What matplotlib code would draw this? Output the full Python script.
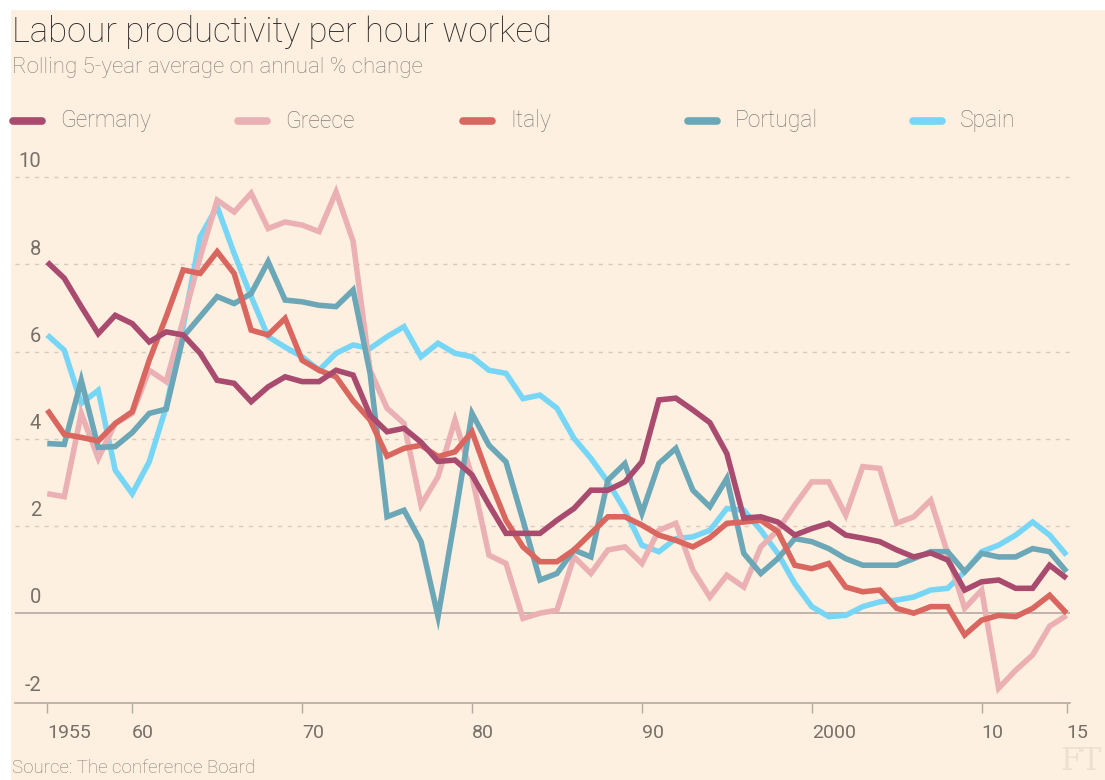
import matplotlib
matplotlib.use("Agg")
import matplotlib.pyplot as plt
import matplotlib.transforms as mtransforms
from matplotlib.lines import Line2D
from matplotlib.patches import Rectangle

years = list(range(1955, 2016))

germany = [8.05, 7.68, 7.03, 6.41, 6.83, 6.64, 6.22, 6.45, 6.38, 5.96,
           5.34, 5.27, 4.85, 5.19, 5.42, 5.31, 5.31, 5.57, 5.46, 4.54,
           4.16, 4.24, 3.92, 3.48, 3.51, 3.17, 2.48, 1.83, 1.83, 1.83,
           2.13, 2.40, 2.82, 2.82, 3.01, 3.47, 4.89, 4.93, 4.66, 4.37,
           3.66, 2.18, 2.21, 2.09, 1.79, 1.94, 2.06, 1.79, 1.72, 1.64,
           1.45, 1.29, 1.38, 1.22, 0.53, 0.72, 0.76, 0.57, 0.57, 1.10, 0.80]

greece = [2.74, 2.67, 4.58, 3.55, 4.35, 4.58, 5.57, 5.31, 6.72, 8.17,
          9.47, 9.20, 9.63, 8.82, 8.97, 8.90, 8.75, 9.66, 8.53, 5.57,
          4.70, 4.35, 2.48, 3.13, 4.43, 3.13, 1.33, 1.14, -0.12, 0.00,
          0.07, 1.29, 0.91, 1.45, 1.52, 1.14, 1.90, 2.06, 0.99, 0.37,
          0.87, 0.60, 1.52, 1.90, 2.48, 3.01, 3.01, 2.25, 3.36, 3.32,
          2.06, 2.21, 2.59, 1.37, 0.11, 0.53, -1.72, -1.31, -0.96, -0.30, -0.05]

italy = [4.66, 4.10, 4.03, 3.95, 4.35, 4.62, 5.80, 6.80, 7.87, 7.79,
         8.29, 7.79, 6.49, 6.38, 6.76, 5.80, 5.57, 5.42, 4.87, 4.43,
         3.60, 3.78, 3.85, 3.59, 3.70, 4.16, 3.09, 2.13, 1.52, 1.18,
         1.18, 1.45, 1.83, 2.21, 2.21, 2.02, 1.79, 1.67, 1.52, 1.73,
         2.06, 2.09, 2.13, 1.87, 1.10, 1.02, 1.14, 0.60, 0.49, 0.53,
         0.11, 0.00, 0.15, 0.15, -0.50, -0.16, -0.05, -0.08, 0.11, 0.41, 0.00]

portugal = [3.89, 3.87, 5.34, 3.80, 3.82, 4.14, 4.58, 4.68, 6.34, 6.80,
            7.26, 7.10, 7.33, 8.06, 7.18, 7.14, 7.06, 7.03, 7.41, 5.50,
            2.21, 2.36, 1.64, -0.08, 2.20, 4.58, 3.85, 3.47, 2.13, 0.76,
            0.91, 1.45, 1.29, 3.05, 3.43, 2.29, 3.43, 3.78, 2.82, 2.44,
            3.09, 1.37, 0.91, 1.25, 1.71, 1.64, 1.48, 1.25, 1.10, 1.10,
            1.10, 1.25, 1.41, 1.41, 0.95, 1.37, 1.29, 1.29, 1.48, 1.41, 0.95]

spain = [6.38, 6.03, 4.81, 5.11, 3.28, 2.74, 3.47, 4.73, 6.57, 8.63,
         9.32, 8.25, 7.26, 6.34, 6.10, 5.88, 5.57, 5.96, 6.15, 6.07,
         6.34, 6.57, 5.88, 6.19, 5.96, 5.88, 5.57, 5.50, 4.92, 5.00,
         4.70, 4.01, 3.55, 3.01, 2.36, 1.56, 1.41, 1.71, 1.75, 1.90,
         2.40, 2.36, 1.90, 1.37, 0.68, 0.15, -0.08, -0.05, 0.15, 0.26,
         0.30, 0.37, 0.53, 0.57, 0.95, 1.41, 1.56, 1.79, 2.09, 1.79, 1.33]

series_names = ["Germany", "Greece", "Italy", "Portugal", "Spain"]
series_values = [germany, greece, italy, portugal, spain]
colors = ["#a94a6f", "#ebb0b3", "#d9675f", "#6ba7b6", "#77d6f5"]
zorders = [6, 3, 5, 4, 2]

xtick_pos = [1955, 1960, 1970, 1980, 1990, 2000, 2010, 2015]
xtick_labels = ["1955", "60", "70", "80", "90", "2000", "10", "15"]
ytick_vals = [-2, 0, 2, 4, 6, 8, 10]

BG = "#fdf0e1"
FONT = ["Roboto", "DejaVu Sans"]
plt.rcParams["font.family"] = FONT

W, H = 1105, 780
fig = plt.figure(figsize=(W / 100, H / 100), dpi=100, facecolor="white")
fig.add_artist(Rectangle((11 / W, 0), 1 - 11 / W, 1 - 10 / H,
                         transform=fig.transFigure, facecolor=BG,
                         edgecolor="none", zorder=-10))

ax_l, ax_r = 15 / W, 1070 / W
ax_b, ax_t = 1 - 703 / H, 1 - 164 / H
ax = fig.add_axes([ax_l, ax_b, ax_r - ax_l, ax_t - ax_b])
ax.set_facecolor("none")

for name, vals, c, z in zip(series_names, series_values, colors, zorders):
    ax.plot(years, vals, color=c, lw=4.0, solid_joinstyle="miter",
            solid_capstyle="butt", zorder=z, label=name)

ax.set_xlim(1953.1, 2015.2)
ax.set_ylim(-2.06, 10.3)

for v in [2, 4, 6, 8, 10]:
    ax.axhline(v, color="#d4ccc2", lw=1.0, ls=(0, (3, 4)), zorder=1)
ax.axhline(0, color="#b3aaa2", lw=1.2, zorder=1)

for s in ["top", "right", "left"]:
    ax.spines[s].set_visible(False)
ax.spines["bottom"].set_color("#b3aaa2")
ax.spines["bottom"].set_linewidth(1.2)

ax.set_yticks([])
ax.set_xticks(xtick_pos)
ax.set_xticklabels(xtick_labels)
ax.tick_params(axis="x", direction="out", length=7, width=1.0,
               color="#b3aaa2", labelcolor="#777068", labelsize=14, pad=8)
for lab in ax.get_xticklabels():
    lab.set_horizontalalignment("left")
    lab.set_transform(lab.get_transform() +
                      mtransforms.ScaledTranslation(0.0, 0, fig.dpi_scale_trans))

ytrans = mtransforms.blended_transform_factory(fig.transFigure, ax.transData)
for v in ytick_vals:
    ax.text(41 / W, v + 0.13, str(v), transform=ytrans, ha="right", va="bottom",
            fontsize=14.5, color="#777068")

fig.text(12 / W, 1 - 32 / H, "Labour productivity per hour worked",
         fontsize=25, fontweight="light", color="#2e2b2b", va="center", ha="left")
fig.text(12 / W, 1 - 68 / H, "Rolling 5-year average on annual % change",
         fontsize=16, fontweight="light", color="#857e7a", va="center", ha="left")

for i, (name, c) in enumerate(zip(series_names, colors)):
    x0 = 13 + i * 225
    yl = 1 - 121 / H
    fig.add_artist(Line2D([x0 / W, (x0 + 29) / W], [yl, yl],
                          transform=fig.transFigure, color=c, lw=5.5,
                          solid_capstyle="round"))
    fig.text((x0 + 47) / W, yl, name, fontsize=16.5, fontweight="light",
             color="#857e7a", va="center", ha="left")

fig.text(12 / W, 1 - 768 / H, "Source: The conference Board",
         fontsize=13.5, fontweight="light", color="#857e7a", va="center", ha="left")
fig.text(1102 / W, 3 / H, "FT", fontsize=22, family="DejaVu Serif",
         color="#ede0d1", va="bottom", ha="right")

fig.savefig("out.png", dpi=100, facecolor="white")
